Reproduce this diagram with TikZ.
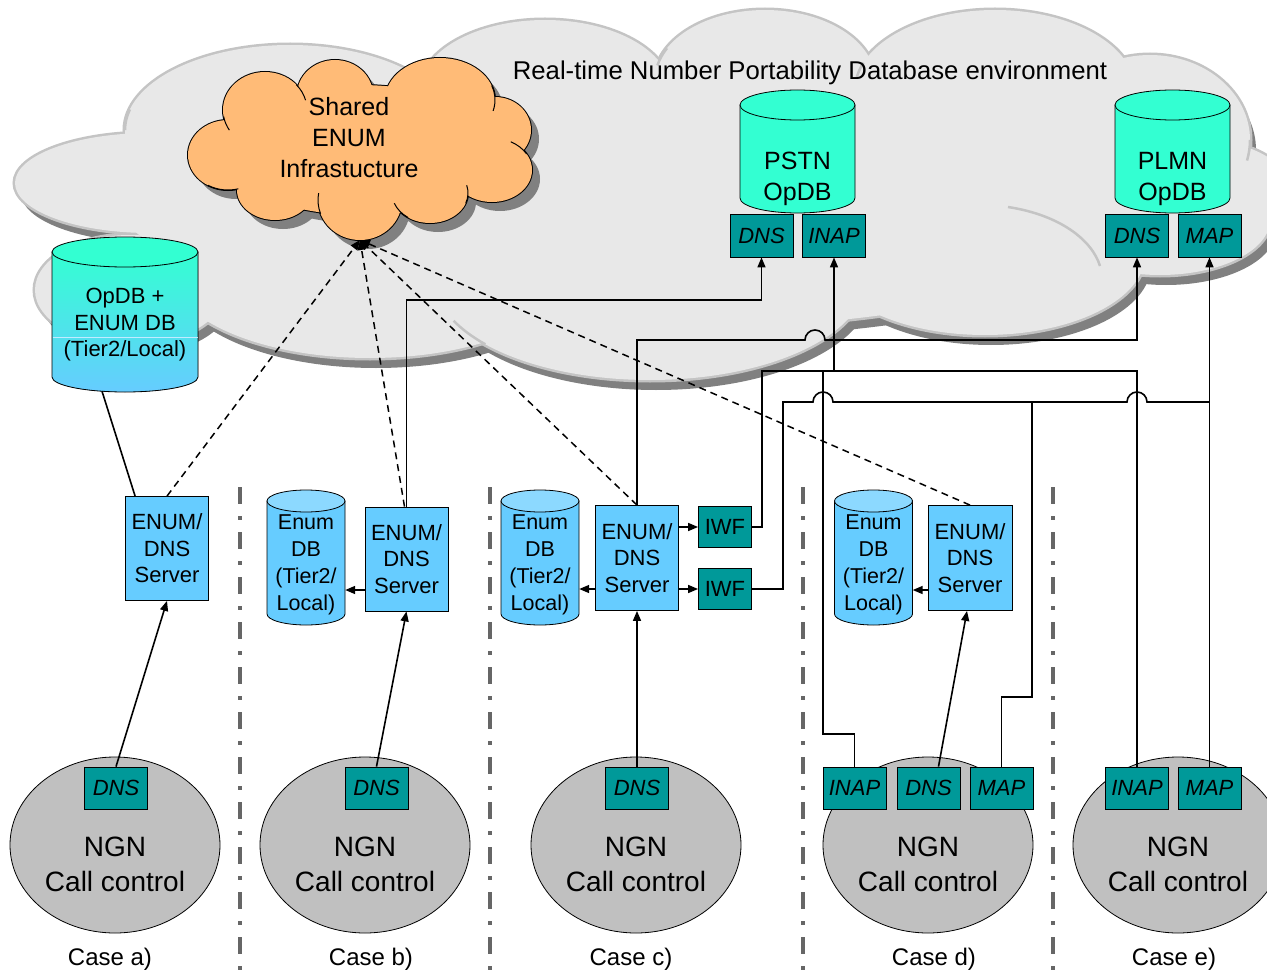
\documentclass[tikz,border=0pt]{standalone}
\usepackage{fontspec}
\setmainfont{Liberation Sans}
\usetikzlibrary{arrows.meta,shapes.geometric,calc}

\definecolor{cloudfill}{HTML}{E8E8E8}
\definecolor{cloudedge}{HTML}{C4C4C4}
\definecolor{cshadow}{HTML}{808080}
\definecolor{orangec}{HTML}{FFBB77}
\definecolor{tealc}{HTML}{009999}
\definecolor{lblue}{HTML}{66CCFF}
\definecolor{capblue}{HTML}{8CD9FF}
\definecolor{dbgreen}{HTML}{33FFD2}
\definecolor{ngngray}{HTML}{C0C0C0}
\definecolor{sepgray}{HTML}{666666}

\tikzset{
  proto/.style={draw=black, line width=0.8pt, fill=tealc, minimum width=63pt, minimum height=43pt,
    inner sep=0pt, font=\fontsize{22}{26}\selectfont\itshape},
  iwfbox/.style={draw=black, line width=0.8pt, fill=tealc, minimum width=53pt, minimum height=41pt,
    inner sep=0pt, font=\fontsize{22}{26}\selectfont},
  server/.style={draw=black, line width=0.8pt, fill=lblue, minimum width=83pt, minimum height=104pt,
    inner sep=0pt, align=center, font=\fontsize{22}{26.5}\selectfont},
  ngn/.style={ellipse, draw=black, line width=0.8pt, fill=ngngray, minimum width=210pt,
    minimum height=176pt, inner sep=0pt},
  ngntext/.style={align=center, inner sep=0pt, font=\fontsize{28}{35}\selectfont},
  caselbl/.style={inner sep=0pt, anchor=base, font=\fontsize{24}{28}\selectfont},
  dbtext/.style={align=center, inner sep=0pt, font=\fontsize{21.5}{27}\selectfont},
  bigdbtext/.style={align=center, inner sep=0pt, font=\fontsize{25}{31}\selectfont},
  cylbody/.style={inner sep=0pt, minimum width=#1},
  conn/.style={line width=1.6pt},
  arr/.style={conn, -{Triangle[length=10pt,width=8pt]}},
  dashconn/.style={line width=1.5pt, dash pattern=on 7pt off 5pt, -{Triangle[length=10pt,width=8pt]}},
  separator/.style={draw=sepgray, line width=4pt, dash pattern=on 17pt off 12pt on 4pt off 12pt},
  crease/.style={draw=cloudedge, line width=2.5pt},
  ocrease/.style={draw=black, line width=1pt},
}

% database cylinder: centre x, half width, top y, bottom y, cap radius, body fill, cap fill
\newcommand\dbcyl[7]{%
  \filldraw[line width=0.8pt, fill=#6] (#1-#2,#3+#5) -- (#1-#2,#4-#5)
    arc[start angle=180, end angle=0, x radius=#2, y radius=#5] -- (#1+#2,#3+#5) -- cycle;
  \filldraw[line width=0.8pt, fill=#7] (#1,#3+#5) ellipse[x radius=#2, y radius=#5];}

% fold line of a cloud bump: centre x, centre y, x radius, y radius, from angle, to angle
\newcommand\ofold[6]{%
  \draw[ocrease] ($(#1,#2)+(#5:#3 and #4)$) arc[start angle=#5, end angle=#6, x radius=#3, y radius=#4];}

\def\bigcloud{150/183/135/50, 290/130/165/85, 545/90/125/70, 765/80/110/70, 995/90/140/80,
  1150/140/100/85, 1200/190/90/50, 1160/220/110/55, 985/255/160/80, 650/280/215/100,
  370/270/200/88, 130/290/95/55, 640/200/520/130}
\def\enumcloud{265/110/42/38, 335/95/38/35, 440/100/55/42, 495/130/36/33, 492/170/40/32,
  430/193/38/30, 360/200/42/40, 275/190/38/30, 228/155/40/35, 360/150/140/65}

\begin{document}
\begin{tikzpicture}[x=1pt, y=1pt, yscale=-1]
\useasboundingbox (0,0) rectangle (1267,971);
\clip (0,0) rectangle (1267,971);
\fill[white] (0,0) rectangle (1267,971);

% ---- database environment cloud ----
\foreach \cx/\cy/\rx/\ry in \bigcloud {\fill[cshadow] (\cx+6,\cy+10) ellipse[x radius=\rx, y radius=\ry];}
\foreach \cx/\cy/\rx/\ry in \bigcloud {\draw[cloudedge, line width=5pt] (\cx,\cy) ellipse[x radius=\rx, y radius=\ry];}
\foreach \cx/\cy/\rx/\ry in \bigcloud {\fill[cloudfill] (\cx,\cy) ellipse[x radius=\rx, y radius=\ry];}
\draw[crease] ($(290,130)+(180:165 and 85)$) arc[start angle=180, end angle=194, x radius=165, y radius=85];
\draw[crease] ($(765,80)+(207:110 and 70)$) arc[start angle=207, end angle=192, x radius=110, y radius=70];
\draw[crease] ($(995,90)+(200:140 and 80)$) arc[start angle=200, end angle=188, x radius=140, y radius=80];
\draw[crease] ($(650,280)+(140:215 and 100)$) arc[start angle=140, end angle=156, x radius=215, y radius=100];
\draw[crease] ($(1150,140)+(0:100 and 85)$) arc[start angle=0, end angle=14, x radius=100, y radius=85];
\draw[crease] (1008,207) .. controls (1060,215) and (1092,240) .. (1100,266);

\node[inner sep=0pt, anchor=base, font=\fontsize{25.7}{30}\selectfont] (title) at (810,80)
  {Real-time Number Portability Database environment};

% ---- shared ENUM infrastructure cloud ----
\foreach \cx/\cy/\rx/\ry in \enumcloud {\fill[cshadow] (\cx+8,\cy+9) ellipse[x radius=\rx, y radius=\ry];}
\foreach \cx/\cy/\rx/\ry in \enumcloud {\draw[black, line width=2pt] (\cx,\cy) ellipse[x radius=\rx, y radius=\ry];}
\foreach \cx/\cy/\rx/\ry in \enumcloud {\fill[orangec] (\cx,\cy) ellipse[x radius=\rx, y radius=\ry];}
\ofold{492}{170}{40}{32}{330}{298}
\ofold{440}{100}{55}{42}{340}{375}
\ofold{265}{110}{42}{38}{170}{148}
\ofold{228}{155}{40}{35}{120}{75}
\ofold{360}{200}{42}{40}{160}{190}
\ofold{430}{193}{38}{30}{125}{160}
\ofold{430}{193}{38}{30}{20}{-15}
\ofold{265}{110}{42}{38}{318}{345}
\node[bigdbtext] (senum) at (349,138) {Shared\\ENUM\\Infrastucture};
\coordinate (hub) at (360,240);

% ---- operator databases ----
\dbcyl{797.5}{57.5}{90}{213}{15}{dbgreen}{dbgreen}
\node[bigdbtext] (pstn) at (797.5,179) {PSTN\\OpDB};
\dbcyl{1172.5}{57.5}{90}{213}{15}{dbgreen}{dbgreen}
\node[bigdbtext] (plmn) at (1172.5,179) {PLMN\\OpDB};

\filldraw[line width=0.8pt, top color=dbgreen, bottom color=lblue] (52,252) -- (52,377)
  arc[start angle=180, end angle=0, x radius=73, y radius=15] -- (198,252) -- cycle;
\filldraw[line width=0.8pt, fill=dbgreen] (125,252) ellipse[x radius=73, y radius=15];
\draw[white!60!lblue, line width=0.6pt] (52.5,337) -- (197.5,337);
\node[cylbody=146pt, minimum height=155pt] (opdb) at (125,314.5) {};
\node[dbtext, font=\fontsize{22}{26.5}\selectfont] (opdbtxt) at (125,325) {OpDB +\\ENUM DB\\(Tier2/Local)};

% protocol interfaces of the operator databases
\node[proto] (pd) at (761.5,235.5) {DNS};
\node[proto] (pi) at (834,235.5) {INAP};
\node[proto] (ld) at (1137,235.5) {DNS};
\node[proto] (lm) at (1209.5,235.5) {MAP};

% ---- local ENUM databases and servers ----
\node[server, minimum height=104pt] (srvA) at (167,548.5) {ENUM/\\DNS\\Server};

\dbcyl{306}{39}{490}{625}{11}{lblue}{capblue}
\node[dbtext, minimum width=78pt] (dbB) at (306,565) {Enum\\DB\\(Tier2/\\Local)};
\node[server] (srvB) at (406.5,559) {ENUM/\\DNS\\Server};

\dbcyl{540}{39}{490}{625}{11}{lblue}{capblue}
\node[dbtext, minimum width=78pt] (dbC) at (540,565) {Enum\\DB\\(Tier2/\\Local)};
\node[server, minimum height=105pt] (srvC) at (637,558) {ENUM/\\DNS\\Server};
\node[iwfbox] (iwf1) at (725,527) {IWF};
\node[iwfbox] (iwf2) at (725,589) {IWF};

\dbcyl{873.5}{39}{490}{625}{11}{lblue}{capblue}
\node[dbtext, minimum width=78pt] (dbD) at (873.5,565) {Enum\\DB\\(Tier2/\\Local)};
\node[server, minimum width=84pt, minimum height=105pt] (srvD) at (970,558) {ENUM/\\DNS\\Server};

% ---- NGN call control ----
\node[ngn] (ngnA) at (115,845) {};
\node[ngn] (ngnB) at (365,845) {};
\node[ngn] (ngnC) at (636,845) {};
\node[ngn] (ngnD) at (928,845) {};
\node[ngn] (ngnE) at (1178,845) {};
\node[ngntext] (ngnAt) at (115,864) {NGN\\Call control};
\node[ngntext] (ngnBt) at (365,864) {NGN\\Call control};
\node[ngntext] (ngnCt) at (636,864) {NGN\\Call control};
\node[ngntext] (ngnDt) at (928,864) {NGN\\Call control};
\node[ngntext] (ngnEt) at (1178,864) {NGN\\Call control};

\node[proto, minimum height=42pt] (aDNS) at (116,788) {DNS};
\node[proto, minimum height=42pt] (bDNS) at (376.5,788) {DNS};
\node[proto, minimum height=42pt] (cDNS) at (637,788) {DNS};
\node[proto, minimum height=42pt] (dINAP) at (854.5,788) {INAP};
\node[proto, minimum height=42pt] (dDNS) at (928.5,788) {DNS};
\node[proto, minimum height=42pt] (dMAP) at (1001.5,788) {MAP};
\node[proto, minimum height=42pt] (eINAP) at (1137,788) {INAP};
\node[proto, minimum height=42pt] (eMAP) at (1209.5,788) {MAP};

\node[caselbl] (caseA) at (110,965) {Case a)};
\node[caselbl] (caseB) at (371,965) {Case b)};
\node[caselbl] (caseC) at (631,965) {Case c)};
\node[caselbl] (caseD) at (934,965) {Case d)};
\node[caselbl] (caseE) at (1174,965) {Case e)};

% case separators
\foreach \sx in {240,490,803,1053} {\draw[separator] (\sx,487) -- (\sx,980);}

% ---- connectors ----
% case a
\draw[conn] ($(srvA.north west)+(10,0)$) -- ($(opdb.south)+(-23,-1)$);
\draw[dashconn] (srvA.north) -- (hub);
\draw[arr] (aDNS.north) -- (srvA.south);

% case b
\draw[dashconn] ($(srvB.north)+(-2,0)$) -- (hub);
\draw[arr] (srvB.north) -- (srvB.north |- 0,300) -| (pd.south);
\draw[arr] (srvB.west |- 0,590) -- (dbB.east |- 0,590);
\draw[arr] (bDNS.north) -- (srvB.south);

% case c
\draw[dashconn] (srvC.north) -- (hub);
\draw[arr] (srvC.north) -- (srvC.north |- 0,340) -- (805,340)
  arc[start angle=180, end angle=360, radius=10] -- (ld.south |- 0,340) -- (ld.south);
\draw[arr] (srvC.west |- 0,589) -- (dbC.east |- 0,589);
\draw[arr] (srvC.east |- iwf1) -- (iwf1.west);
\draw[arr] (srvC.east |- iwf2) -- (iwf2.west);
\draw[arr] (cDNS.north) -- (srvC.south);

% INAP distribution
\coordinate (inapL) at (762,371);
\coordinate (inapD) at (823,371);
\draw[conn] (iwf1.east) -| (inapL) -- (eINAP.north |- inapL) -- (eINAP.north);
\draw[arr] (pi.south |- inapL) -- (pi.south);
\draw[conn] (inapD) -- (inapD |- 0,734) -| (dINAP.north);

% MAP distribution
\coordinate (mapL) at (783,402);
\coordinate (mapD) at (1032,402);
\draw[conn] (iwf2.east) -| (mapL) -- (813,402)
  arc[start angle=180, end angle=360, radius=10] -- (1127,402)
  arc[start angle=180, end angle=360, radius=10] -- (eMAP.north |- mapL);
\draw[arr] (eMAP.north) -- (lm.south);
\draw[conn] (mapD) -- (mapD |- 0,697) -| (dMAP.north);

% case d
\draw[dashconn] (srvD.north) -- (hub);
\draw[arr] (srvD.west |- 0,590) -- (dbD.east |- 0,590);
\draw[arr] ($(dDNS.north)+(10,0)$) -- ($(srvD.south)+(-3,0)$);
\end{tikzpicture}
\end{document}
